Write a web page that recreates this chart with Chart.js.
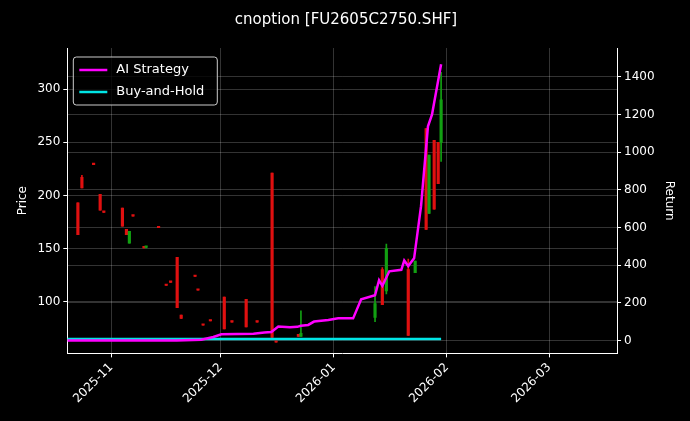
<!DOCTYPE html>
<html><head><meta charset="utf-8">
<script src="https://cdn.jsdelivr.net/npm/chart.js@4/dist/chart.umd.min.js"></script>
<style>html,body{margin:0;background:#000}</style>
</head><body><canvas id="c" width="690" height="421"></canvas>
<script>
// day offset from 2025-10-20
const candleDay  = [2.9,4,7.2,9,10,15.1,16.2,17,18,21,21.6,25,27.1,28.3,30.1,31.2,35,35.8,37.2,39.2,43,45.1,49,52,56.1,57.2,63.3,64,84.3,86.3,87.4,93.4,95.3,98.3,99.1,100.5,101.6,102.4];
const candleOpen = [193,217,229.5,201,184.5,188,168,155,181,151,151,170,115.5,118.5,141.5,87,124,111,78,82,104,81,102,81,221,62,69,67,85,130,110,130,127,263,183,252,250,250];
const candleHigh = [193,219,230,201,185,188,168,166,181,151.5,151.5,170.5,116,119,141.5,87,124.5,111.5,78.5,82.5,104,81.5,102,81.5,221,62.5,69,91,114,132,154,140,138,263,238,252,250,316];
const candleLow  = [163,207,229,186,184,171,163,155,180.5,150.5,150.5,169.5,115,118,94,84,123.5,110.5,77.5,81.5,74,80.5,76,80.5,66,61.5,67,67,81,97,107,68,127,168,183,187,211,232];
const candleClose= [163,207,229,186,184,171,163,166,180.5,150.5,151,169.5,115,118,94,84,123.5,110.5,77.5,81.5,74,80.5,76,80.5,66,61.5,67,70,98,97,150,68,138,168,238,187,211,290];
const aiDay   = [0,20,30,36.7,40,42.2,51,54,55.9,57.8,61,63,64,66,67.6,71.5,74.2,78.3,80.5,84.3,85.4,86.3,88.2,91.5,92.3,93.4,95,96.9,98.8,99.9,102.4];
const aiRet   = [0,0,0,3,18,32,35,42,45,74,70,72,78,82,100,108,117,117,218,240,320,290,367,375,425,395,436,713,1138,1200,1468];
const bhDay = [0,102.4];
const bhRet = [8,8];
const monthTicks = [12,42,73,104,132];
const monthLabels = ['2025-11','2025-12','2026-01','2026-02','2026-03'];
const priceTicks=[100,150,200,250,300];
const retTicks=[0,200,400,600,800,1000,1200,1400];

const col = i => candleClose[i]>=candleOpen[i] ? '#12a012' : '#e01010';
const wick = candleDay.map((d,i)=>({x:d,y:[candleLow[i],candleHigh[i]]}));
const body = candleDay.map((d,i)=>({x:d,y:[candleOpen[i],candleClose[i]]}));
const grid={color:'rgba(255,255,255,0.2)',borderDash:[3,3],drawTicks:true,tickColor:'#fff',tickLength:4,offset:false};
const legendPlugin={id:'lg',afterDraw(ch){const a=ch.chartArea,c=ch.ctx;const x=a.left+6,y=a.top+9,w=144,h=48;
 c.save();c.fillStyle='rgba(0,0,0,0.8)';c.strokeStyle='#ccc';c.lineWidth=1;c.beginPath();c.roundRect(x,y,w,h,3);c.fill();c.stroke();
 const items=[['AI Strategy','#ff00ff'],['Buy-and-Hold','#00e5e5']];
 c.font='13px "DejaVu Sans"';c.textBaseline='middle';
 items.forEach((it,k)=>{const yy=y+13+k*22;c.strokeStyle=it[1];c.lineWidth=2.5;c.beginPath();c.moveTo(x+6,yy);c.lineTo(x+34,yy);c.stroke();c.fillStyle='#fff';c.fillText(it[0],x+43,yy);});
 c.restore();}};
new Chart(document.getElementById('c'),{
 type:'bar',
 data:{datasets:[
  {type:'line',data:aiDay.map((d,i)=>({x:d,y:aiRet[i]})),borderColor:'#ff00ff',borderWidth:2.5,pointRadius:0,yAxisID:'y1',order:0},
  {type:'line',data:bhDay.map((d,i)=>({x:d,y:bhRet[i]})),borderColor:'#00e5e5',borderWidth:2.5,pointRadius:0,yAxisID:'y1',order:0},
  {data:wick,backgroundColor:wick.map((_,i)=>col(i)),barThickness:1,yAxisID:'y',grouped:false,order:2},
  {data:body,backgroundColor:body.map((_,i)=>col(i)),barThickness:2.5,minBarLength:1.5,yAxisID:'y',grouped:false,order:1}
 ]},
 options:{responsive:false,animation:false,
  layout:{padding:{left:12,right:10,top:0,bottom:12}},
  plugins:{legend:{display:false},tooltip:{enabled:false},
   title:{display:true,text:'cnoption [FU2605C2750.SHF]',color:'#fff',font:{size:15,family:'DejaVu Sans',weight:'normal'},padding:{top:11,bottom:19}}},
  scales:{
   x:{type:'linear',min:0,max:150.6,offset:false,grid:grid,border:{color:'#fff'},
    afterBuildTicks:s=>{s.ticks=monthTicks.map(v=>({value:v}));},
    ticks:{color:'#fff',maxRotation:45,minRotation:45,font:{size:12,family:'DejaVu Sans'},callback:(v)=>monthLabels[monthTicks.indexOf(v)]}},
   y:{position:'left',min:51,max:339,grid:grid,border:{color:'#fff'},
    afterBuildTicks:s=>{s.ticks=priceTicks.map(v=>({value:v}));},
    title:{display:true,text:'Price',color:'#fff',font:{size:12,family:'DejaVu Sans'}},
    ticks:{color:'#fff',font:{size:12,family:'DejaVu Sans'},callback:v=>String(v)}},
   y1:{position:'right',min:-69,max:1554,grid:grid,border:{color:'#fff'},
    afterBuildTicks:s=>{s.ticks=retTicks.map(v=>({value:v}));},
    title:{display:true,text:'Return',color:'#fff',font:{size:12,family:'DejaVu Sans'}},
    ticks:{color:'#fff',font:{size:12,family:'DejaVu Sans'},callback:v=>String(v)}}
  }}
 ,plugins:[legendPlugin]});
</script></body></html>
